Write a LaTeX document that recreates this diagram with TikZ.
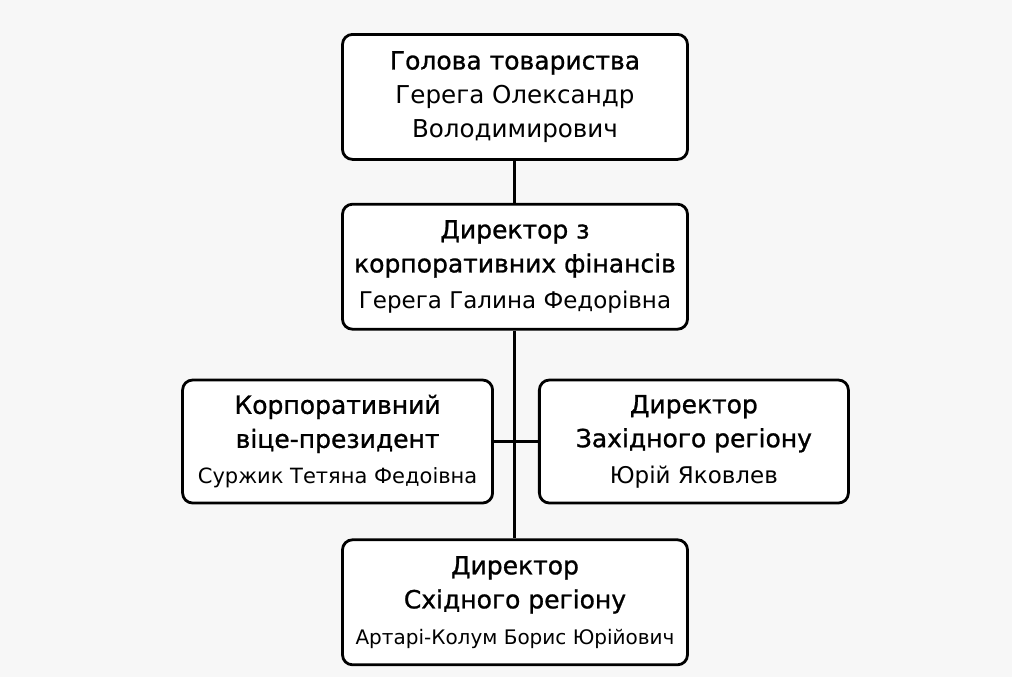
\documentclass[tikz,border=0pt]{standalone}
\usepackage{fontspec}
\setmainfont{DejaVu Sans}
\usetikzlibrary{positioning}
\newcommand{\ttl}[1]{{\fontsize{12.5}{17}\selectfont\addfontfeature{FakeBold=1}#1}}

\begin{document}
\begin{tikzpicture}[node distance=21pt,
    orgbox/.style={draw, line width=1.4pt, rounded corners=5pt, fill=white, align=center,
      minimum width=172.5pt, minimum height=62.5pt, inner sep=2pt,
      font=\fontsize{11.5}{17}\selectfont},
    link/.style={line width=1.5pt}]
  % page background
  \fill[black!3] (-257.5pt,16.5pt) rectangle (248.5pt,-322pt);

  \node[orgbox, anchor=north] (head) at (0,0)
    {\ttl{Голова товариства}\\ {\fontsize{12.3}{17}\selectfont Герега Олександр}\\
     {\fontsize{12.3}{17}\selectfont Володимирович}};
  \node[orgbox, below=21pt of head] (fin)
    {\ttl{Директор з}\\ \ttl{корпоративних фінансів}\\[1pt] Герега Галина Федорівна};
  \node[orgbox, minimum width=155pt, minimum height=61.5pt,
    below left=24pt and 10.5pt of fin.south] (vp)
    {\ttl{Корпоративний}\\ \ttl{віце-президент}\\[1pt] {\fontsize{10.5}{14}\selectfont Суржик Тетяна Федоівна}};
  \node[orgbox, minimum width=154.5pt, minimum height=61.5pt,
    below right=24pt and 11.5pt of fin.south] (west)
    {\ttl{Директор}\\ \ttl{Західного регіону}\\[1pt] Юрій Яковлев};
  \coordinate (mid) at (vp.south -| fin.south);
  \node[orgbox, below=17pt of mid] (east)
    {\ttl{Директор}\\ \ttl{Східного регіону}\\[1pt] {\fontsize{10}{14}\selectfont Артарі-Колум Борис Юрійович}};

  \draw[link] (head) -- (fin);
  \draw[link] (fin) -- (east);
  \draw[link] (vp) -- (west);
\end{tikzpicture}
\end{document}
